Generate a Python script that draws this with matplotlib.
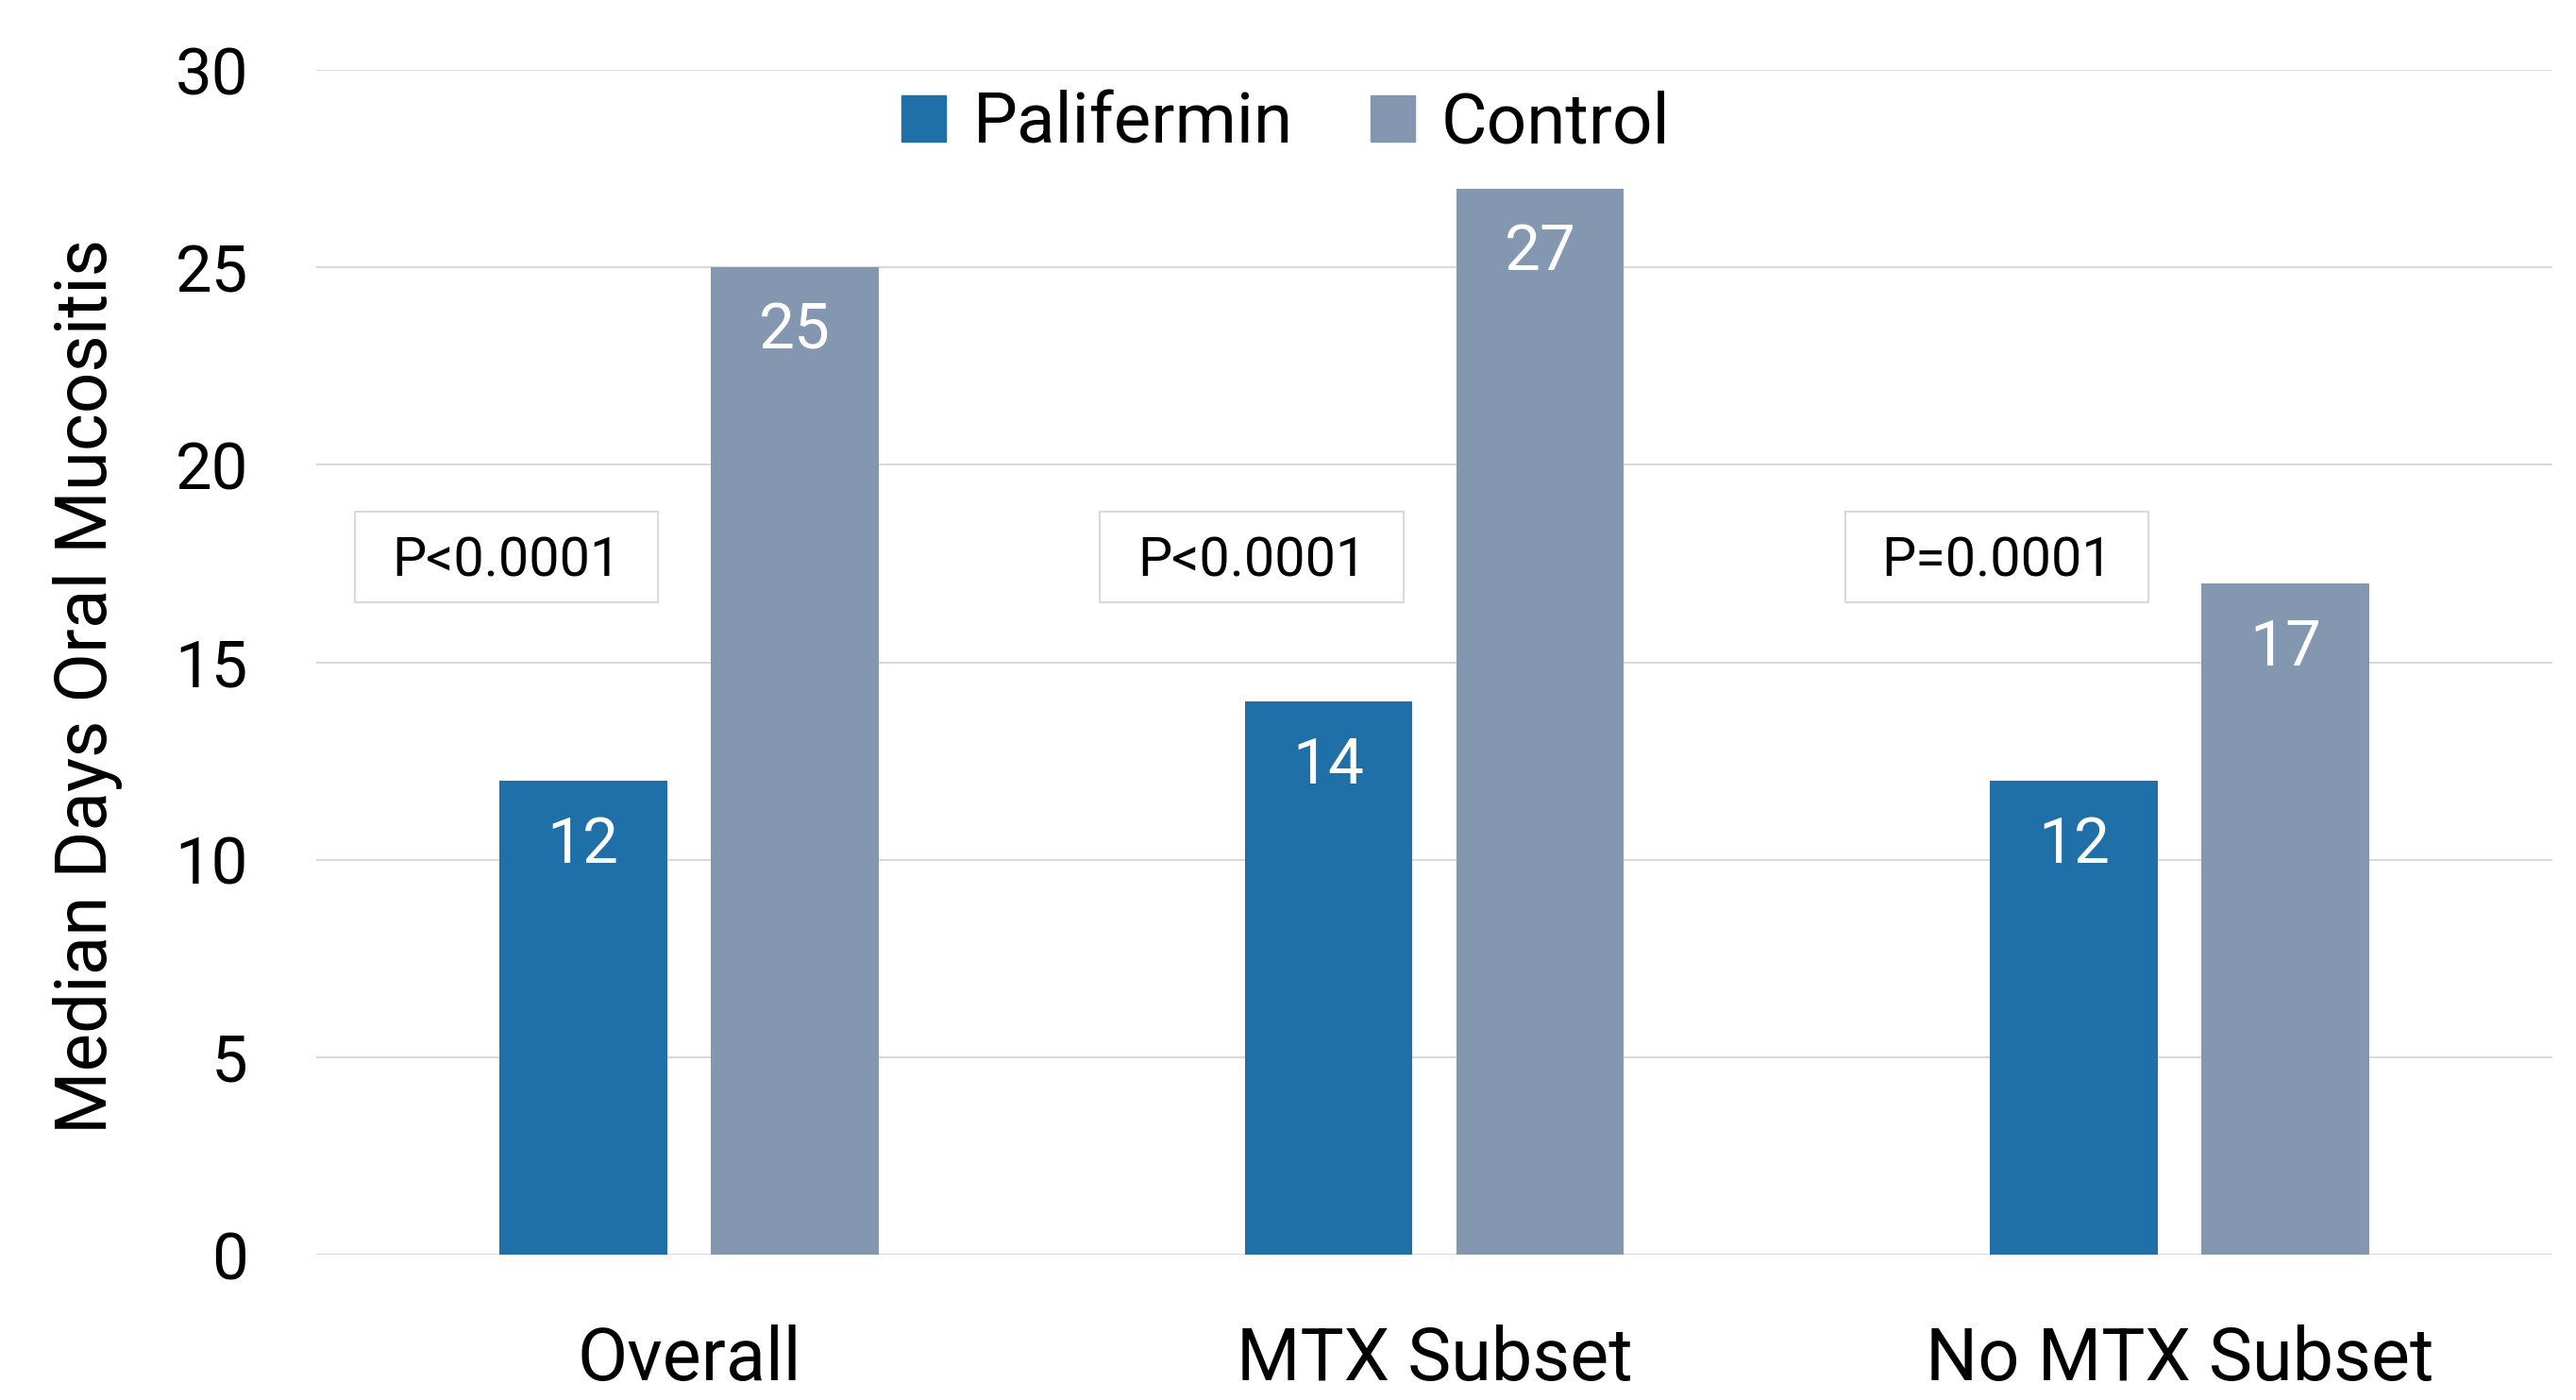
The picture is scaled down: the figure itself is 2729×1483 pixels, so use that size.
import matplotlib
matplotlib.use("Agg")
import matplotlib.pyplot as plt
from matplotlib.patches import Rectangle, Patch
import numpy as np

plt.rcParams['font.family'] = ['Roboto', 'DejaVu Sans']

# data
categories = ["Overall", "MTX Subset", "No MTX Subset"]
palifermin = [12, 14, 12]
control = [25, 27, 17]
p_values = ["P<0.0001", "P<0.0001", "P=0.0001"]
series_names = ["Palifermin", "Control"]
yticks = [0, 5, 10, 15, 20, 25, 30]

# styles
c_pal = "#1f6fa8"
c_ctl = "#8497b0"
grid_c = "#d9d9d9"
bar_w = 0.225
offset = 0.142

fig = plt.figure(figsize=(27.29, 14.83), dpi=100)
ax = fig.add_axes([0.1228, 0.1038, 0.9908 - 0.1228, 0.9501 - 0.1038])

x = np.arange(len(categories))
b1 = ax.bar(x - offset, palifermin, bar_w, color=c_pal, zorder=2)
b2 = ax.bar(x + offset, control, bar_w, color=c_ctl, zorder=2)

# value labels inside top of bars
for bars, vals in [(b1, palifermin), (b2, control)]:
    for rect, v in zip(bars, vals):
        ax.annotate(str(v), (rect.get_x() + rect.get_width() / 2, v),
                    xytext=(0, -62.5), textcoords="offset points",
                    ha="center", va="baseline", color="white", fontsize=48.6)

# p-value boxes
box_w, box_y0, box_h = 0.407, 16.52, 2.29
for i, p in enumerate(p_values):
    cx = x[i] - 0.245
    ax.add_patch(Rectangle((cx - box_w / 2, box_y0), box_w, box_h,
                           facecolor="white", edgecolor=grid_c, lw=1.5, zorder=3))
    ax.text(cx, box_y0 + box_h / 2 - 0.12, p, ha="center", va="center",
            fontsize=41.4, zorder=4)

ax.set_xlim(-0.5, len(categories) - 0.5)
ax.set_ylim(0, 30)
ax.set_yticks(yticks)
ax.set_xticks(x)
ax.set_xticklabels(categories, fontsize=55.7)
ax.tick_params(axis="y", length=0, pad=52, labelsize=49.6)
ax.tick_params(axis="x", length=0, pad=53)
ax.yaxis.grid(True, color=grid_c, lw=1.5)
ax.set_axisbelow(True)
for s in ax.spines.values():
    s.set_visible(False)

ax.set_ylabel("Median Days Oral Mucositis", fontsize=55)
ax.yaxis.set_label_coords(-0.0865, 0.48)

handles = [Patch(color=c_pal), Patch(color=c_ctl)]
ax.legend(handles, series_names, loc="center", ncol=2, frameon=False,
          bbox_to_anchor=(1362.5 / 2729, 1 - 131 / 1483),
          bbox_transform=fig.transFigure, fontsize=53.7,
          handlelength=0.63, handleheight=0.63, handletextpad=0.38,
          columnspacing=1.1, borderpad=0, borderaxespad=0)

fig.savefig("out.png", dpi=100)
